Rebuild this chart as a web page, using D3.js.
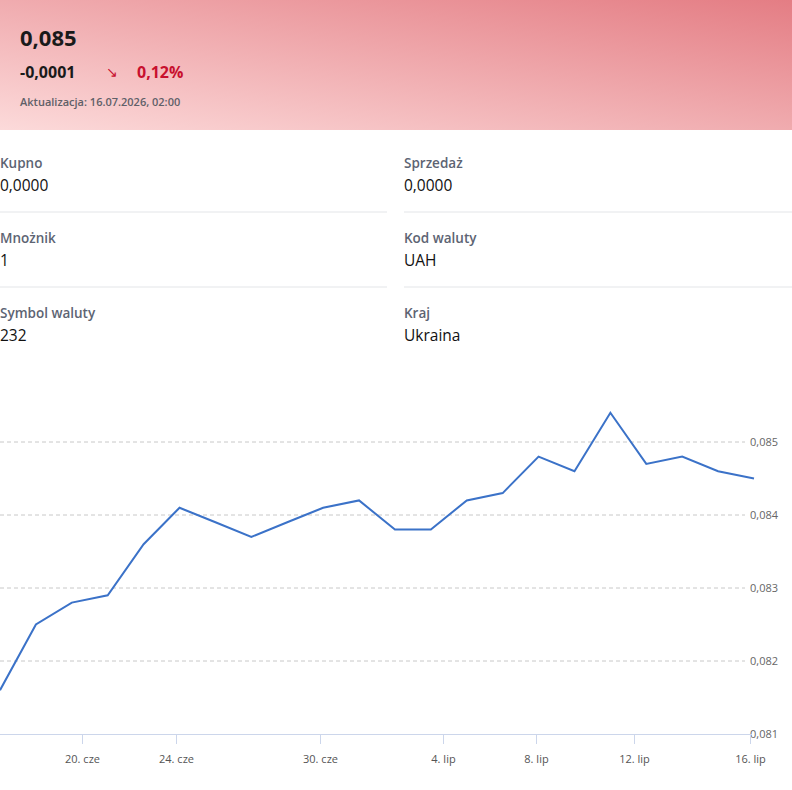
<!DOCTYPE html>
<html><head><meta charset="utf-8">
<script src="https://cdn.jsdelivr.net/npm/d3@7"></script>
<style>body{margin:0;background:#fff}svg{display:block;font-family:"Open Sans",sans-serif}</style>
</head><body><svg id="c" width="792" height="790"></svg>
<script>
const values=[0.0816,0.0825,0.0828,0.0829,0.0836,0.0841,0.0839,0.0837,0.0839,0.0841,0.0842,0.0838,0.0838,0.0842,0.0843,0.0848,0.0846,0.0854,0.0847,0.0848,0.0846,0.0845];
const tickLabels=["20. cze","24. cze","30. cze","4. lip","8. lip","12. lip","16. lip"];
const tickIndex=[2.28,4.89,8.9,12.33,14.93,17.65,20.9];
const yTicks=[0.081,0.082,0.083,0.084,0.085];
const infoLabels=["Kupno","Sprzedaż","Mnożnik","Kod waluty","Symbol waluty","Kraj"];
const infoValues=["0,0000","0,0000","1","UAH","232","Ukraina"];

const svg=d3.select("#c");
const defs=svg.append("defs");
const g=defs.append("linearGradient").attr("id","hg").attr("x1","0").attr("y1","1").attr("x2","1").attr("y2","0");
g.append("stop").attr("offset","0").attr("stop-color","#fcdada");
g.append("stop").attr("offset","1").attr("stop-color","#e47d84");
svg.append("rect").attr("width",792).attr("height",130).attr("fill","url(#hg)");
svg.append("text").attr("x",20).attr("y",46).attr("font-size",22).attr("font-weight",700).attr("fill","#1a1a1a").text("0,085");
svg.append("text").attr("x",20).attr("y",78).attr("font-size",16).attr("font-weight",700).attr("fill","#1a1a1a").text("-0,0001");
svg.append("text").attr("x",106).attr("y",77).attr("font-size",14).attr("fill","#c8102e").text("↘");
svg.append("text").attr("x",137).attr("y",78).attr("font-size",16).attr("font-weight",700).attr("fill","#c8102e").text("0,12%");
svg.append("text").attr("x",20).attr("y",106).attr("font-size",11).attr("font-weight",600).attr("fill","#5f6068").text("Aktualizacja: 16.07.2026, 02:00");

infoLabels.forEach((l,i)=>{
  const col=i%2,row=Math.floor(i/2);
  const x=col?404:0,y=168+row*75;
  svg.append("text").attr("x",x).attr("y",y).attr("font-size",13.5).attr("font-weight",600).attr("fill","#5d6473").text(l);
  svg.append("text").attr("x",x).attr("y",y+23).attr("font-size",15.5).attr("fill","#111").text(infoValues[i]);
  if(row<2) svg.append("line").attr("x1",col?404:0).attr("x2",col?792:387).attr("y1",212+row*75).attr("y2",212+row*75).attr("stroke","#e3e5e8");
});

const x=d3.scaleLinear().domain([0,21]).range([0,754]);
const y=d3.scaleLinear().domain([0.081,0.085]).range([734,442]);
const fmt=d=>d3.format(".3f")(d).replace(".",",");
yTicks.forEach(t=>{
  if(t>0.081) svg.append("line").attr("x1",0).attr("x2",745).attr("y1",y(t)).attr("y2",y(t)).attr("stroke","#c8c8c8").attr("stroke-dasharray","4,3");
  svg.append("text").attr("x",750).attr("y",y(t)+4).attr("font-size",11).attr("fill","#666").text(fmt(t));
});
svg.append("line").attr("x1",0).attr("x2",752).attr("y1",734.5).attr("y2",734.5).attr("stroke","#ccd6eb");
tickIndex.forEach((t,i)=>{
  const px=Math.round(x(t))+0.5;
  svg.append("line").attr("x1",px).attr("x2",px).attr("y1",735).attr("y2",744).attr("stroke","#ccd6eb");
  svg.append("text").attr("x",px).attr("y",763).attr("text-anchor","middle").attr("font-size",11).attr("fill","#555").text(tickLabels[i]);
});
svg.append("path").datum(values).attr("fill","none").attr("stroke","#3b72c8").attr("stroke-width",2)
  .attr("d",d3.line().x((d,i)=>x(i)).y(d=>y(d)));
</script></body></html>
